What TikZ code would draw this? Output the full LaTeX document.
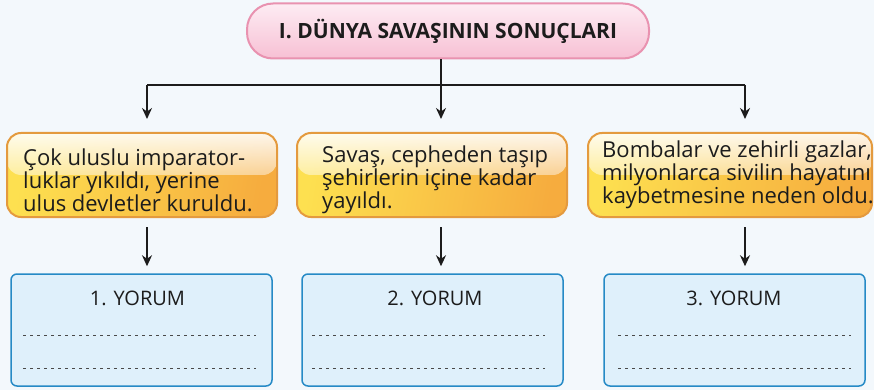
\documentclass[tikz,border=0pt]{standalone}
\usepackage{fontspec}
\setmainfont{Open Sans}
\usetikzlibrary{arrows.meta,fadings}

\definecolor{bgblue}{RGB}{243,248,252}
\definecolor{pinkline}{RGB}{233,146,176}
\definecolor{pinktop}{RGB}{253,236,243}
\definecolor{pinkbot}{RGB}{247,192,212}
\definecolor{orline}{RGB}{228,154,62}
\definecolor{ormid}{RGB}{253,224,80}
\definecolor{orbot}{RGB}{246,172,62}
\definecolor{blline}{RGB}{38,138,198}
\definecolor{blfill}{RGB}{223,240,251}
\definecolor{ink}{RGB}{28,28,28}

\tikzset{
  titlebox/.style={draw=pinkline, line width=2pt, rounded corners=26pt,
    top color=pinktop, bottom color=pinkbot, minimum width=402pt, minimum height=55pt,
    text=ink, font=\fontsize{21}{24}\selectfont\bfseries},
  card/.style={draw=orline, line width=2pt, rounded corners=14pt,
    left color=ormid, right color=orbot, shading angle=80, minimum height=84pt,
    path picture={\fill[white, path fading=south, fill opacity=0.9]
      (path picture bounding box.north west) rectangle (path picture bounding box.east);}},
  cardtext/.style={inner sep=0pt, align=left, text=ink, font=\fontsize{22}{20.5}\selectfont},
  yorum/.style={draw=blline, line width=1.5pt, rounded corners=6pt, fill=blfill,
    minimum width=261pt, minimum height=112pt},
  yorumtext/.style={inner sep=0pt, text=ink, font=\fontsize{20}{22}\selectfont},
  wire/.style={draw=ink, line width=1.6pt},
  arr/.style={wire, -{Stealth[length=11pt,width=10pt]}},
  rule/.style={draw=ink!80, line width=0.7pt, dash pattern=on 3pt off 4pt}
}

\begin{document}
\begin{tikzpicture}[x=1pt, y=-1pt]
      \fill[bgblue] (0,0) rectangle (874,390);
      \useasboundingbox (0,0) rectangle (874,390);

      \node[titlebox] (title) at (448,31) {I. DÜNYA SAVAŞININ SONUÇLARI};

      \node[card, minimum width=270pt] (c1) at (142,175) {};
      \node[card, minimum width=270pt] (c2) at (432,175) {};
      \node[card, minimum width=284pt] (c3) at (730,175) {};
      \node[cardtext, anchor=west] (t1) at (23,180) {Çok uluslu imparator-\\luklar yıkıldı, yerine\\ulus devletler kuruldu.};
      \node[cardtext, anchor=west] (t2) at (322,180) {Savaş, cepheden taşıp\\şehirlerin içine kadar\\yayıldı.};
      \node[cardtext, anchor=west] (t3) at (602,175) {Bombalar ve zehirli gazlar,\\milyonlarca sivilin hayatını\\kaybetmesine neden oldu.};

      \node[yorum] (b1) at (141.5,330) {};
      \node[yorum] (b2) at (432.5,330) {};
      \node[yorum] (b3) at (734.5,330) {};
      \node[yorumtext] (y1) at (137.5,298) {1. YORUM};
      \node[yorumtext] (y2) at (435,298) {2. YORUM};
      \node[yorumtext] (y3) at (734,298) {3. YORUM};

      \foreach \x in {23,312,618} {
        \foreach \y in {335,368} {
          \draw[rule] (\x,\y) -- ++(233,0);
        }
      }

      \coordinate (j1) at (147,85);
      \coordinate (j2) at (441,85);
      \coordinate (j3) at (745,85);
      \draw[wire] (j1) -- (j3);
      \draw[wire] (j2 |- title.south) -- (j2);
      \draw[arr, shorten >=13pt] (j1) -- (j1 |- c1.north);
      \draw[arr, shorten >=13pt] (j2) -- (j2 |- c2.north);
      \draw[arr, shorten >=13pt] (j3) -- (j3 |- c3.north);
      \draw[arr, shorten <=9pt, shorten >=7pt] (j1 |- c1.south) -- (j1 |- b1.north);
      \draw[arr, shorten <=9pt, shorten >=7pt] (j2 |- c2.south) -- (j2 |- b2.north);
      \draw[arr, shorten <=9pt, shorten >=7pt] (j3 |- c3.south) -- (j3 |- b3.north);
    \end{tikzpicture}
\end{document}
